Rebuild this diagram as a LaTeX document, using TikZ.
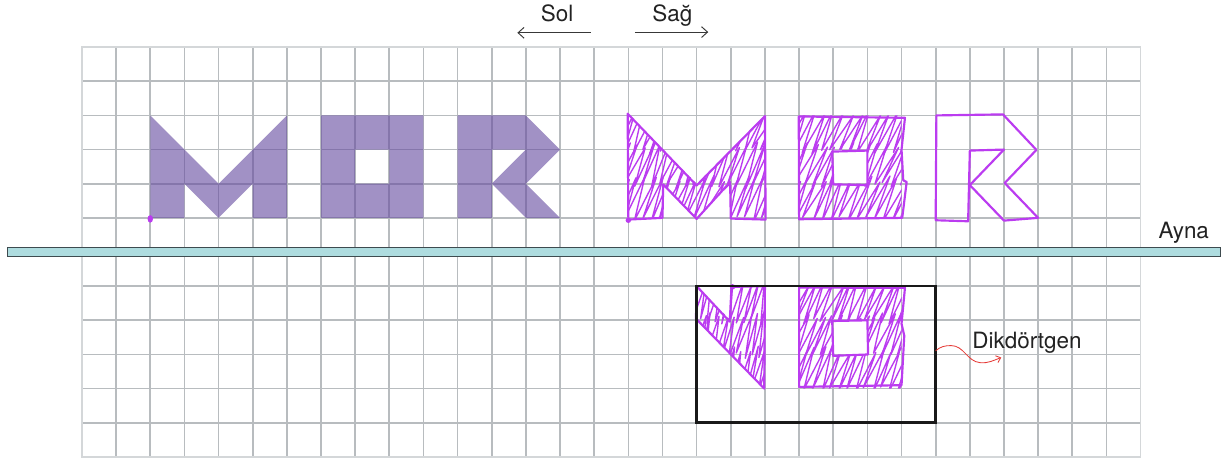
\documentclass[tikz,border=0pt]{standalone}
\usepackage{fontspec}
\setmainfont{TeX Gyre Heros}
\usetikzlibrary{arrows.meta}
\definecolor{gridc}{HTML}{B8BCBF}
\definecolor{gridb}{HTML}{D4D7D9}
\definecolor{mirf}{HTML}{AEDCDF}
\definecolor{mird}{HTML}{3E4B4F}
\definecolor{mag}{HTML}{BB3CF0}
\definecolor{lil}{RGB}{99,72,158}
\definecolor{txt}{HTML}{222222}
\definecolor{redc}{HTML}{E53935}
\newcommand\scrib[6]{%
  \pgfmathtruncatemacro\scribN{((#2)-(#1)+(#6))/(#5)+1}%
  \draw[hatch] ({#1-#6},#3) \foreach \k in {0,...,\scribN}{ -- ({#1+\k*#5+0.07*rand},{#4+0.1*rand}) -- ({#1-#6+(\k+1)*#5+0.04*rand},{#3+0.1*rand}) };%
}
\begin{document}
\begin{tikzpicture}[x=1cm,y=1cm,
  hand/.style={draw=mag,line width=1.8pt,line join=round,line cap=round},
  hatch/.style={draw=mag,line width=1.15pt,line join=round,line cap=round},
  lilac/.style={fill=lil,fill opacity=0.6},
  lbl/.style={text=txt,font=\fontsize{18.7}{22}\selectfont,inner sep=0pt},
  dirarrow/.style={draw=txt!90,line width=0.8pt,-{Straight Barb[length=5pt,width=9pt]}}]
\pgfmathsetseed{11}
\useasboundingbox (-2.40,-0.117) rectangle (33.56,13.38);
% grid
\draw[gridc,line width=1.4pt] (0,0) grid (31,12);
\draw[gridb,line width=1.4pt] (0,0) rectangle (31,12);
% filled lilac letters
\fill[lilac] (2,7)--(2,10)--(4,8)--(6,10)--(6,7)--(5,7)--(5,8)--(4,7)--(3,8)--(3,7)--cycle;
\fill[lilac,even odd rule] (7,7) rectangle (10,10) (8,8) rectangle (9,9);
\fill[lilac] (11,7)--(11,10)--(13,10)--(14,9)--(13,8)--(14,7)--(13,7)--(12,8)--(13,9)--(12,9)--(12,7)--cycle;
\fill[mag] (2,6.97) ellipse (0.08 and 0.11);
% hand-drawn M
\begin{scope}
\clip (16,7)--(16,10)--(18,8)--(20,10)--(20,7)--(19,7)--(19,8)--(18,7)--(17,8)--(17,7)--cycle;
\scrib{16}{20}{6.95}{8.15}{0.25}{0.6}
\scrib{16}{20}{7.95}{9.15}{0.25}{0.6}
\scrib{16}{20}{8.95}{10.1}{0.25}{0.6}
\end{scope}
\draw[hand] (16.0,6.95)--(15.98,10.05)--(18.0,7.95)--(20.0,9.98)--(20.02,6.95)--(19.0,6.98)--(18.98,8.05)--(18.0,6.97)--(17.02,7.98)--(17.0,7.0)--cycle;
\fill[mag] (16.0,6.93) circle (0.08);
% hand-drawn O
\begin{scope}
\clip (21,7)--(24,7)--(24,10)--(21,10)--cycle (22,8)--(22,9)--(23,9)--(23,8)--cycle;
\scrib{21}{24}{6.95}{8.15}{0.26}{0.65}
\scrib{21}{24}{7.95}{9.15}{0.26}{0.65}
\scrib{21}{24}{8.95}{10.1}{0.26}{0.65}
\end{scope}
\draw[hand] (20.99,9.97)--(24.1,9.93)--(24.0,9.0)--(24.05,8.1)--(24.15,8.05)--(24.02,7.0)--(21.0,6.96)--(20.99,9.97);
\draw[hand] (21.97,8.94)--(23.0,8.97)--(23.0,7.96)--(22.0,7.98)--cycle;
% hand-drawn R
\draw[hand] (25.0,6.93)--(25.02,10.0)--(26.97,10.03)--(27.95,8.99)--(27.02,8.02)--(28.0,7.0)--(27.0,6.92)--(26.0,7.96)--(27.0,9.0)--(26.0,8.97)--(25.95,6.9)--cycle;
% mirror
\fill[mirf,draw=mird,line width=0.9pt] (-2.17,5.86) rectangle (33.35,6.14);
\node[lbl,anchor=base west] (ayna) at (31.52,6.40) {Ayna};
% reflected shapes
\begin{scope}
\clip (18,5)--(19,4)--(19,5)--(20,5)--(20,2)--(18,4)--cycle;
\scrib{18}{20}{1.95}{3.15}{0.22}{0.35}
\scrib{18}{20}{2.95}{4.15}{0.22}{0.35}
\scrib{18}{20}{3.95}{5.1}{0.22}{0.35}
\end{scope}
\draw[hand] (18.0,5.0)--(18.97,3.96)--(19.02,4.98)--(20.0,5.0)--(19.98,2.0)--(17.98,4.05)--cycle;
\fill[mag] (19.05,4.98) circle (0.08);
\begin{scope}
\clip (21,2)--(24,2)--(24,5)--(21,5)--cycle (22,3)--(22,4)--(23,4)--(23,3)--cycle;
\scrib{21}{24}{1.95}{3.15}{0.25}{0.6}
\scrib{21}{24}{2.95}{4.15}{0.25}{0.6}
\scrib{21}{24}{3.95}{5.1}{0.25}{0.6}
\end{scope}
\draw[hand] (21.0,4.96)--(24.1,4.95)--(24.0,3.9)--(24.08,3.55)--(24.0,2.1)--(21.0,2.05)--(21.0,4.96);
\draw[hand] (21.97,3.98)--(23.0,4.0)--(23.02,3.0)--(22.0,2.96)--cycle;
% rectangle
\node[draw=black!90,line width=2.2pt,minimum width=7cm,minimum height=4cm,inner sep=0pt,outer sep=0pt] (rect) at (21.5,3) {};
\node[lbl,anchor=base west] (dik) at (26.07,3.18) {Dikdörtgen};
\coordinate (dikarr) at (26.92,2.91);
\draw[redc,line width=0.7pt,-{Straight Barb[length=3.5pt,width=6pt]}] ([yshift=0.11cm]rect.east) to[out=40,in=180] (25.45,3.26) to[out=0,in=175] (26.3,2.76) to[out=-5,in=200] (dikarr);
% direction labels
\node[lbl,anchor=base west] (sol) at (13.43,12.75) {Sol};
\node[lbl,anchor=base west] (sag) at (16.70,12.75) {Sağ};
\coordinate (solA) at (14.9,12.42);
\coordinate (solB) at (12.75,12.42);
\coordinate (sagA) at (16.19,12.44);
\coordinate (sagB) at (18.34,12.44);
\draw[dirarrow] (solA) -- (solB);
\draw[dirarrow] (sagA) -- (sagB);
\end{tikzpicture}
\end{document}
